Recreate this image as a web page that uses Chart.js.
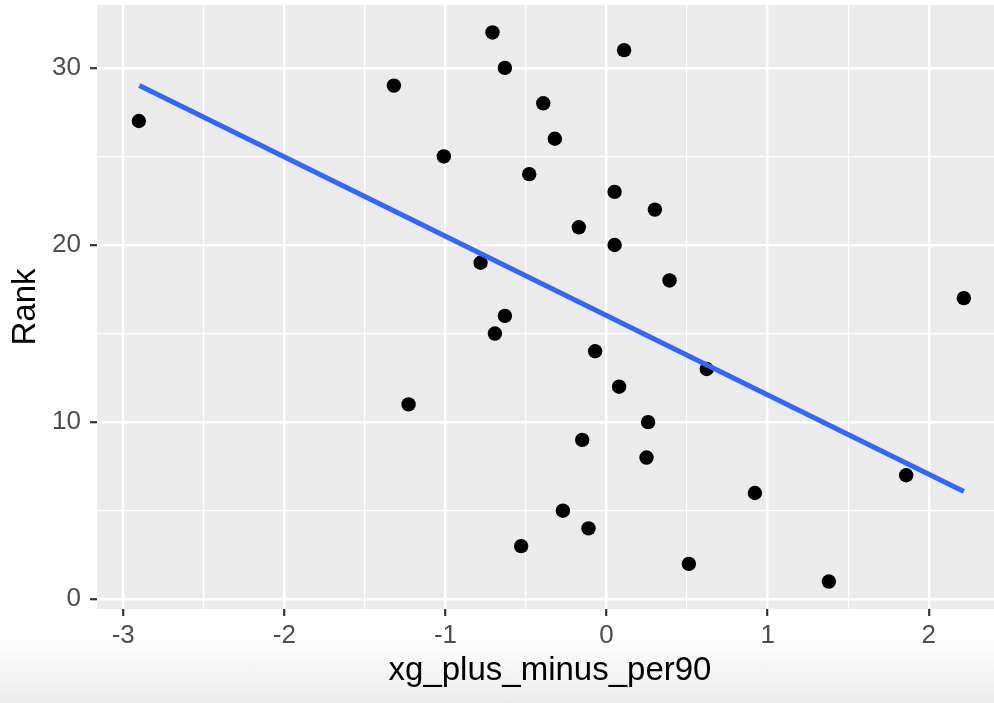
<!DOCTYPE html>
<html>
<head>
<meta charset="utf-8">
<title>Rank vs xg_plus_minus_per90</title>
<script src="https://cdn.jsdelivr.net/npm/chart.js@4/dist/chart.umd.min.js"></script>
<style>
html, body {
margin: 0;
padding: 0;
width: 994px;
height: 703px;
overflow: hidden;
background: linear-gradient(to bottom, #ffffff 0px, #ffffff 636px, #ececec 703px);
}
canvas { display: block; }
</style>
</head>
<body>
<canvas id="chart" width="1003" height="703" style="width:1003px;height:703px"></canvas>
<script>

// data (rank 1..32)
const rank = [1,2,3,4,5,6,7,8,9,10,11,12,13,14,15,16,17,18,19,20,21,22,23,24,25,26,27,28,29,30,31,32]
const xg = [1.380,0.511,-0.530,-0.112,-0.271,0.921,1.860,0.248,-0.151,0.258,-1.229,0.078,0.622,-0.071,-0.693,-0.631,2.218,0.391,-0.782,0.050,-0.172,0.300,0.050,-0.480,-1.010,-0.321,-2.903,-0.393,-1.320,-0.631,0.109,-0.708]

// fitted line end points (geom_smooth lm)
const fitX = [-2.900, 2.218]
const fitY = [29.0, 6.08]

// ticks: majors get labels, the others are minor grid lines
const xTicks = [-3,-2.5,-2,-1.5,-1,-0.5,0,0.5,1,1.5,2]
const yTicks = [0,5,10,15,20,25,30]
const xRange = [-3.163, 2.461]
const yRange = [-0.55, 33.55]

const font = "'Liberation Sans', Arial, Helvetica, sans-serif"

function xMajor(v){ return Number.isInteger(v) }
function yMajor(v){ return v % 10 === 0 }

// grey panel like ggplot
const panelBg = {
id: "panelBg",
beforeDraw(chart){
const a = chart.chartArea
const ctx = chart.ctx
ctx.save()
ctx.fillStyle = "#EBEBEB"
ctx.fillRect(a.left, a.top, a.right - a.left, a.bottom - a.top)
ctx.restore()
}
}

let points = rank.map((r, i) => ({x: xg[i], y: r}))
let fit = fitX.map((x, i) => ({x: x, y: fitY[i]}))

new Chart(document.getElementById("chart").getContext("2d"), {
type: "scatter",
data: {
datasets: [
{
type: "line",
data: fit,
borderColor: "#3366FF",
borderWidth: 5,
borderCapStyle: "butt",
pointRadius: 0,
fill: false,
order: 0
},
{
data: points,
backgroundColor: "#000000",
borderWidth: 0,
pointRadius: 7.2,
pointHoverRadius: 7.2,
order: 1
}
]
},
options: {
responsive: false,
animation: false,
events: [],
layout: { autoPadding: false, padding: { top: 5, right: 0, bottom: 0, left: 0 } },
plugins: { legend: { display: false }, tooltip: { enabled: false } },
scales: {
x: {
type: "linear",
min: xRange[0],
max: xRange[1],
afterBuildTicks: s => { s.ticks = xTicks.map(v => ({value: v})) },
afterFit: s => {
s.height = 94
s.paddingLeft = 0; s.paddingRight = 0; s.paddingTop = 0; s.paddingBottom = 0
},
border: { display: false },
grid: {
color: "#ffffff",
lineWidth: c => xMajor(c.tick.value) ? 2.4 : 1.2,
tickColor: c => xMajor(c.tick.value) ? "#333333" : "rgba(0,0,0,0)",
tickWidth: 2.2,
tickLength: 7
},
ticks: {
autoSkip: false,
maxRotation: 0,
padding: 4,
color: "#4D4D4D",
font: { family: font, size: 26 },
callback: v => xMajor(v) ? String(v) : ""
},
title: {
display: true,
text: "xg_plus_minus_per90",
color: "#000000",
font: { family: font, size: 33, lineHeight: 1 },
padding: { top: 0, bottom: 16 }
}
},
y: {
type: "linear",
min: yRange[0],
max: yRange[1],
afterBuildTicks: s => { s.ticks = yTicks.map(v => ({value: v})) },
afterFit: s => {
s.width = 97
s.paddingLeft = 0; s.paddingRight = 0; s.paddingTop = 0; s.paddingBottom = 0
},
border: { display: false },
grid: {
color: "#ffffff",
lineWidth: c => yMajor(c.tick.value) ? 2.4 : 1.2,
tickColor: c => yMajor(c.tick.value) ? "#333333" : "rgba(0,0,0,0)",
tickWidth: 2.2,
tickLength: 7
},
ticks: {
autoSkip: false,
padding: 9,
color: "#4D4D4D",
font: { family: font, size: 26 },
callback: v => yMajor(v) ? String(v) : ""
},
title: {
display: true,
text: "Rank",
color: "#000000",
font: { family: font, size: 33, lineHeight: 1 },
padding: { top: 9, bottom: 0 }
}
}
}
},
plugins: [panelBg]
})

</script>
</body>
</html>
